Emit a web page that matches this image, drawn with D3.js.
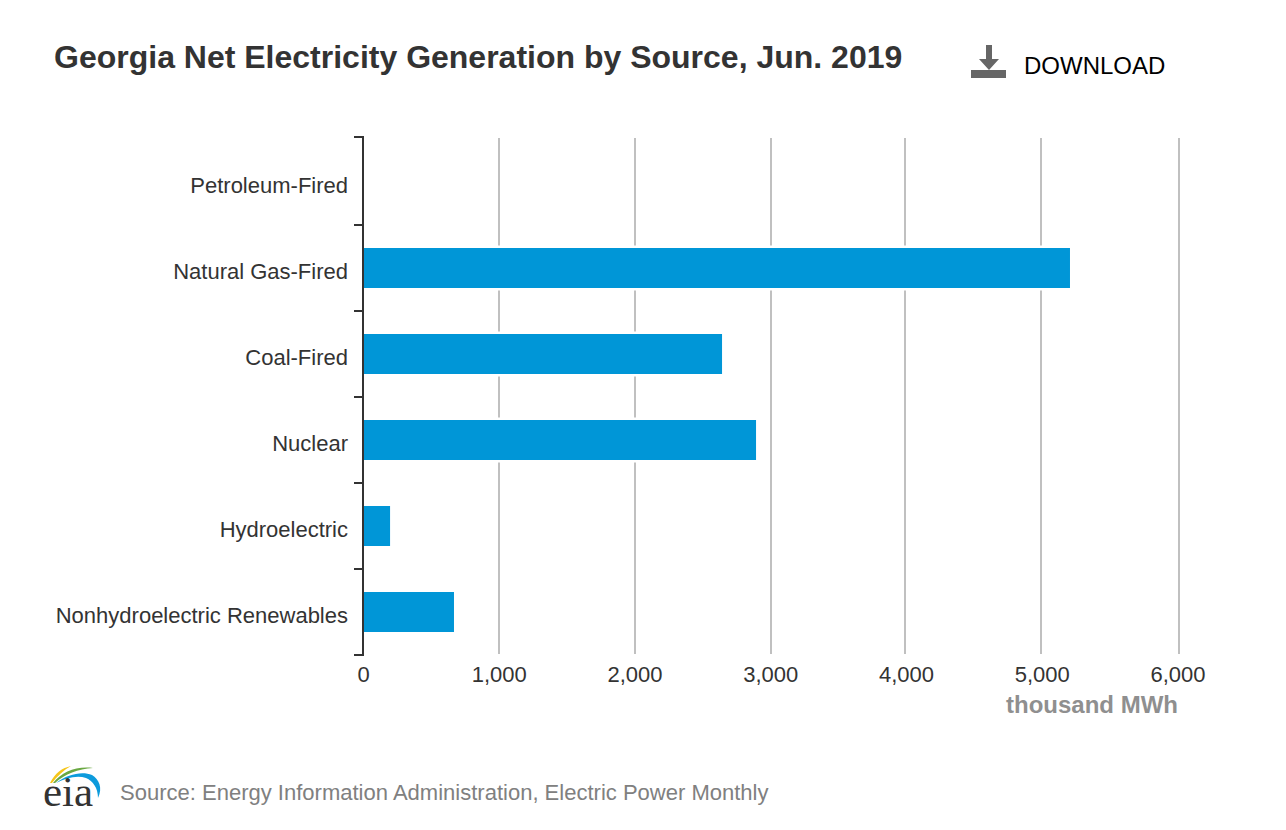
<!DOCTYPE html>
<html>
<head>
<meta charset="utf-8">
<script src="https://cdn.jsdelivr.net/npm/d3@7"></script>
<style>
  html, body { margin: 0; padding: 0; background: #fff; }
  svg { display: block; font-family: "Liberation Sans", Arial, sans-serif; }
  .title { font-size: 32px; font-weight: bold; fill: #333; }
  .cat, .tick-label { font-size: 22px; fill: #333; }
  .unit { font-size: 24px; font-weight: bold; fill: #8f8f8f; }
  .source { font-size: 22.03px; fill: #808080; }
  .download { font-size: 24px; fill: #000; }
</style>
</head>
<body>
<svg id="chart" width="1286" height="830"></svg>
<script>
const categories = ["Petroleum-Fired", "Natural Gas-Fired", "Coal-Fired", "Nuclear", "Hydroelectric", "Nonhydroelectric Renewables"];
const generation = [2, 5210, 2640, 2890, 199, 669];
const xTicks = [0, 1000, 2000, 3000, 4000, 5000, 6000];

const svg = d3.select("#chart");
// the reference's gridlines are not quite evenly spaced, so map tick by tick
const x = d3.scaleLinear().domain(xTicks).range([363, 499, 635, 771, 905, 1041, 1179]);
// its tick labels are evenly spaced though
const xLabel = d3.scaleLinear().domain([0, 6000]).range([363.5, 1178]);
const y = d3.scaleBand().domain(categories).range([139, 655]);
const barH = 40;

svg.append("text").attr("class", "title").attr("x", 54).attr("y", 68)
  .text("Georgia Net Electricity Generation by Source, Jun. 2019");

// Download button
const dl = svg.append("g").attr("fill", "#666");
dl.append("path").attr("d", "M986 45h6v14h7l-10 11-10-11h7z");
dl.append("rect").attr("x", 971).attr("y", 70).attr("width", 35).attr("height", 8);
svg.append("text").attr("class", "download").attr("x", 1024).attr("y", 74).text("DOWNLOAD");

// Gridlines
svg.append("g").selectAll("line")
  .data(xTicks.slice(1)).join("line")
  .attr("x1", d => x(d)).attr("x2", d => x(d))
  .attr("y1", 138).attr("y2", 654)
  .attr("stroke", "#c0c0c0").attr("stroke-width", 2);

// Bars, white outline cuts the gridlines behind them
svg.append("g").selectAll("rect")
  .data(categories).join("rect")
  .attr("x", x(0))
  .attr("y", d => y(d) + y.bandwidth() / 2 - barH / 2)
  .attr("width", (d, i) => x(generation[i]) - x(0))
  .attr("height", barH)
  .attr("fill", "#0096d7")
  .attr("stroke", "#fff")
  .attr("stroke-width", 5)
  .attr("paint-order", "stroke");

// Category axis
const yAxis = svg.append("g");
yAxis.append("line").attr("x1", 363).attr("x2", 363).attr("y1", 136).attr("y2", 656)
  .attr("stroke", "#333").attr("stroke-width", 2);
yAxis.selectAll(".tick")
  .data([137, ...categories.slice(1).map(c => y(c)), 655]).join("line")
  .attr("class", "tick")
  .attr("x1", 354).attr("x2", 363)
  .attr("y1", d => d).attr("y2", d => d)
  .attr("stroke", "#333").attr("stroke-width", 2);
yAxis.selectAll("text")
  .data(categories).join("text")
  .attr("class", "cat")
  .attr("x", 348)
  .attr("y", d => y(d) + y.bandwidth() / 2 + 10.5)
  .attr("text-anchor", "end")
  .text(d => d);

// Value labels
svg.append("g").selectAll("text")
  .data(xTicks).join("text")
  .attr("class", "tick-label")
  .attr("x", d => xLabel(d))
  .attr("y", 682)
  .attr("text-anchor", "middle")
  .text(d => d3.format(",")(d));

svg.append("text").attr("class", "unit").attr("x", 1178).attr("y", 713)
  .attr("text-anchor", "end").text("thousand MWh");

// EIA logo
const logo = svg.append("g");
logo.append("path").attr("d", "M50 783C55 773 62 768 71 766C64 770 57 776 52 783z").attr("fill", "#f5c518");
logo.append("path").attr("d", "M53 783C62 772 76 766 93 768C78 769 65 774 55 783z").attr("fill", "#6aa842");
logo.append("path").attr("d", "M56 783C68 774 82 771 92 775C99 779 103 788 98 798C98 788 93 781 86 778C77 775 66 778 56 783z").attr("fill", "#0d9bdc");
logo.append("text").attr("x", 43).attr("y", 806)
  .attr("font-family", "'Liberation Serif', serif").attr("font-size", 43).attr("fill", "#333")
  .text("eia");

svg.append("text").attr("class", "source").attr("x", 120).attr("y", 800)
  .text("Source: Energy Information Administration, Electric Power Monthly");
</script>
</body>
</html>
